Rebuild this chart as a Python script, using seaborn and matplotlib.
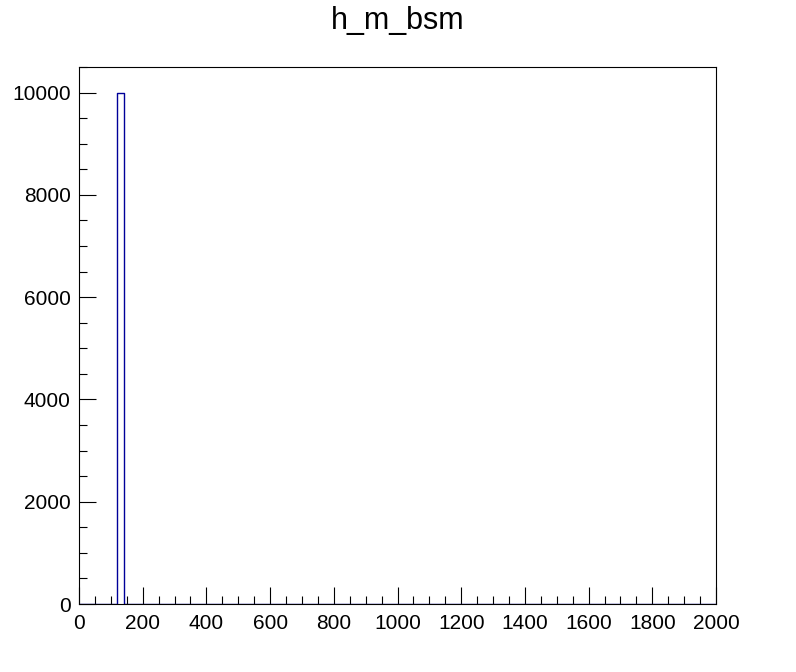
import numpy as np
import pandas as pd
import matplotlib
matplotlib.use("Agg")
import matplotlib.pyplot as plt
import seaborn as sns
from matplotlib.ticker import MultipleLocator

# histogram h_m_bsm: 100 bins from 0 to 2000, only one filled bin
n_bins = 100
x_range = (0, 2000)
bin_centers = [130.0]
bin_counts = [10000]
title = "h_m_bsm"

df = pd.DataFrame({"m": bin_centers, "w": bin_counts})

sns.set_style("white")
plt.rcParams['font.family'] = ['Liberation Sans', 'DejaVu Sans']

fig = plt.figure(figsize=(7.96, 6.72), dpi=100)
ax = fig.add_axes([79 / 796, 68 / 672, 637 / 796, 537 / 672])

sns.histplot(data=df, x="m", weights="w", bins=n_bins, binrange=x_range,
             element="step", fill=False, color="#000099", linewidth=1.0, ax=ax)

ax.set_xlim(*x_range)
ax.set_ylim(0, 10500)
ax.set_xlabel("")
ax.set_ylabel("")

ax.xaxis.set_major_locator(MultipleLocator(200))
ax.xaxis.set_minor_locator(MultipleLocator(50))
ax.yaxis.set_major_locator(MultipleLocator(2000))
ax.yaxis.set_minor_locator(MultipleLocator(500))

ax.tick_params(which="both", direction="in", colors="black", width=0.8,
               top=False, right=False, bottom=True, left=True, labelsize=15)
ax.tick_params(which="major", length=12, pad=6)
ax.tick_params(axis="x", which="major", pad=7)
ax.tick_params(which="minor", length=6)

for s in ax.spines.values():
    s.set_visible(True)
    s.set_color("black")
    s.set_linewidth(0.8)

fig.text(0.5, 1 - 21 / 672, title, ha="center", va="center", fontsize=22,
         color="black")

fig.savefig("out.png", dpi=100, facecolor="white")
